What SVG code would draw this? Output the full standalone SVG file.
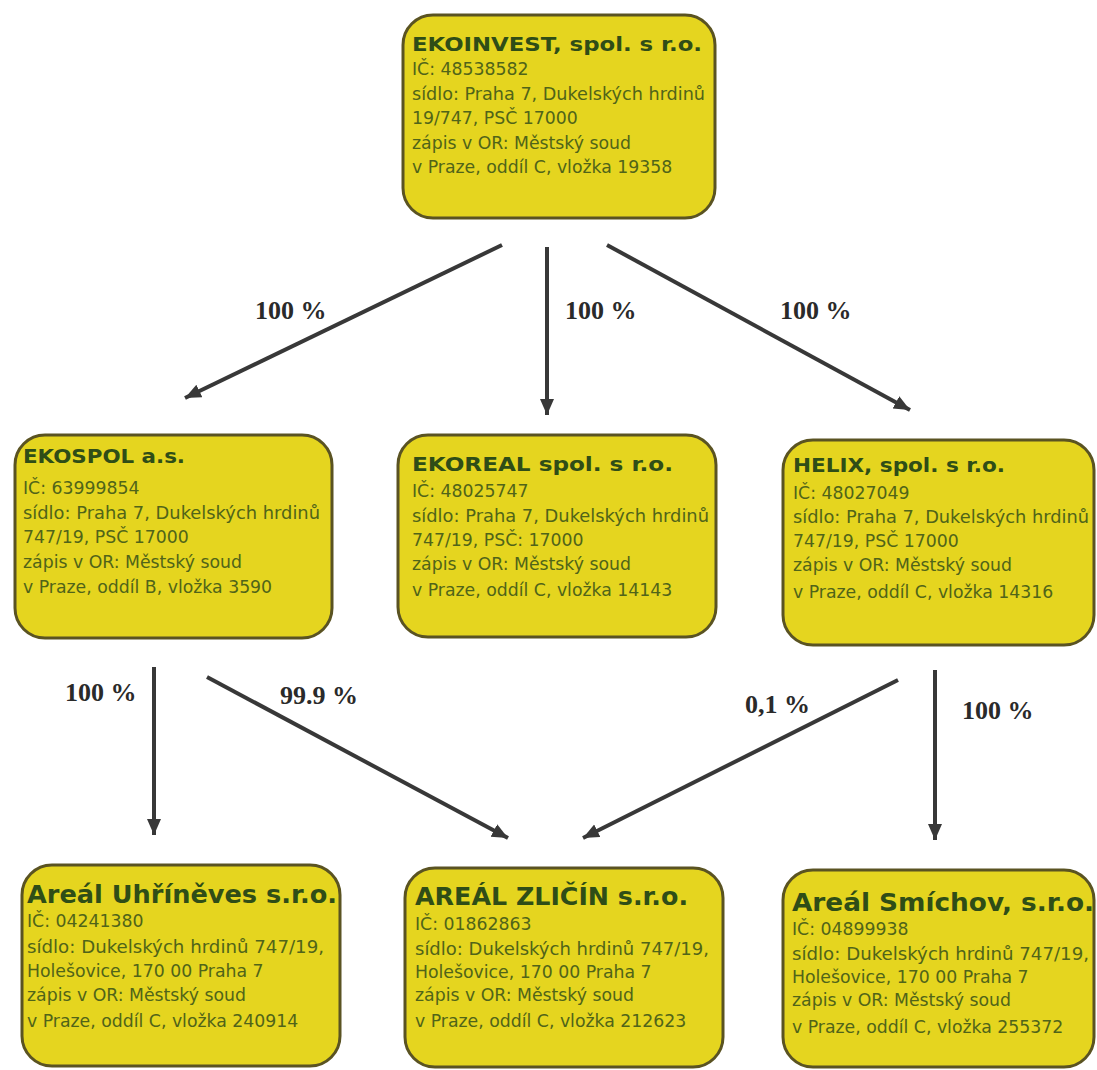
<svg xmlns="http://www.w3.org/2000/svg" width="1097" height="1070" viewBox="0 0 1097 1070">
<style>
.box{fill:#e5d51f;stroke:#5a5322;stroke-width:3}
.t{font-family:"DejaVu Sans","Liberation Sans",sans-serif;font-weight:bold;fill:#2f4d17}
.b{font-family:"DejaVu Sans","Liberation Sans",sans-serif;font-size:17.3px;fill:#506419}
.lbl{font-family:"Liberation Serif","Times New Roman",serif;font-weight:bold;font-size:26px;fill:#2a2a2a}
.edge{stroke:#383838;stroke-width:4;fill:none;marker-end:url(#ah)}
</style>
<defs>
<marker id="ah" markerUnits="userSpaceOnUse" markerWidth="18" markerHeight="16" refX="16" refY="7" orient="auto">
<path d="M0,0 L16,7 L0,14 Z" fill="#383838"/>
</marker>
</defs>
<rect width="1097" height="1070" fill="#ffffff"/>

<g id="connectors">
<line class="edge" x1="502" y1="245" x2="185" y2="398"/>
<line class="edge" x1="547" y1="247" x2="547" y2="415"/>
<line class="edge" x1="607" y1="245" x2="910" y2="410"/>
<line class="edge" x1="154" y1="667" x2="154" y2="835"/>
<line class="edge" x1="207" y1="677" x2="508" y2="838"/>
<line class="edge" x1="898" y1="680" x2="583" y2="838"/>
<line class="edge" x1="935" y1="670" x2="935" y2="840"/>
<text class="lbl" x="255" y="319">100 %</text>
<text class="lbl" x="565" y="319">100 %</text>
<text class="lbl" x="780" y="319">100 %</text>
<text class="lbl" x="65" y="701">100 %</text>
<text class="lbl" x="280" y="704">99.9 %</text>
<text class="lbl" x="745" y="713">0,1 %</text>
<text class="lbl" x="962" y="719">100 %</text>
</g>

<g id="ekoinvest">
<rect class="box" x="403" y="15" width="312" height="203" rx="30"/>
<text class="t" x="412" y="51" font-size="20" textLength="290" lengthAdjust="spacingAndGlyphs">EKOINVEST, spol. s r.o.</text>
<text class="b" x="412" y="75">IČ: 48538582</text>
<text class="b" x="412" y="99.5" textLength="293" lengthAdjust="spacingAndGlyphs">sídlo: Praha 7, Dukelských hrdinů</text>
<text class="b" x="412" y="124">19/747, PSČ 17000</text>
<text class="b" x="412" y="148.5">zápis v OR: Městský soud</text>
<text class="b" x="412" y="173">v Praze, oddíl C, vložka 19358</text>
</g>

<g id="ekospol">
<rect class="box" x="15" y="435" width="317" height="203" rx="30"/>
<text class="t" x="23" y="463" font-size="20" textLength="162" lengthAdjust="spacingAndGlyphs">EKOSPOL a.s.</text>
<text class="b" x="23" y="494">IČ: 63999854</text>
<text class="b" x="23" y="518.5" textLength="297" lengthAdjust="spacingAndGlyphs">sídlo: Praha 7, Dukelských hrdinů</text>
<text class="b" x="23" y="543">747/19, PSČ 17000</text>
<text class="b" x="23" y="567.5">zápis v OR: Městský soud</text>
<text class="b" x="23" y="593">v Praze, oddíl B, vložka 3590</text>
</g>

<g id="ekoreal">
<rect class="box" x="398" y="435" width="318" height="202" rx="30"/>
<text class="t" x="412" y="471" font-size="20" textLength="261" lengthAdjust="spacingAndGlyphs">EKOREAL spol. s r.o.</text>
<text class="b" x="412" y="497">IČ: 48025747</text>
<text class="b" x="412" y="522" textLength="297" lengthAdjust="spacingAndGlyphs">sídlo: Praha 7, Dukelských hrdinů</text>
<text class="b" x="412" y="546">747/19, PSČ: 17000</text>
<text class="b" x="412" y="570">zápis v OR: Městský soud</text>
<text class="b" x="412" y="596">v Praze, oddíl C, vložka 14143</text>
</g>

<g id="helix">
<rect class="box" x="783" y="440" width="311" height="205" rx="30"/>
<text class="t" x="793" y="472" font-size="20" textLength="212" lengthAdjust="spacingAndGlyphs">HELIX, spol. s r.o.</text>
<text class="b" x="793" y="499">IČ: 48027049</text>
<text class="b" x="793" y="523" textLength="296" lengthAdjust="spacingAndGlyphs">sídlo: Praha 7, Dukelských hrdinů</text>
<text class="b" x="793" y="547">747/19, PSČ 17000</text>
<text class="b" x="793" y="571">zápis v OR: Městský soud</text>
<text class="b" x="793" y="598">v Praze, oddíl C, vložka 14316</text>
</g>

<g id="uhrineves">
<rect class="box" x="22" y="865" width="318" height="201" rx="30"/>
<text class="t" x="27" y="903" font-size="24" textLength="310" lengthAdjust="spacingAndGlyphs">Areál Uhříněves s.r.o.</text>
<text class="b" x="27" y="927">IČ: 04241380</text>
<text class="b" x="27" y="953" textLength="297" lengthAdjust="spacingAndGlyphs">sídlo: Dukelských hrdinů 747/19,</text>
<text class="b" x="27" y="977">Holešovice, 170 00 Praha 7</text>
<text class="b" x="27" y="1001">zápis v OR: Městský soud</text>
<text class="b" x="27" y="1027">v Praze, oddíl C, vložka 240914</text>
</g>

<g id="zlicin">
<rect class="box" x="405" y="868" width="318" height="199" rx="30"/>
<text class="t" x="415" y="905" font-size="24" textLength="273" lengthAdjust="spacingAndGlyphs">AREÁL ZLIČÍN s.r.o.</text>
<text class="b" x="415" y="930">IČ: 01862863</text>
<text class="b" x="415" y="955" textLength="294" lengthAdjust="spacingAndGlyphs">sídlo: Dukelských hrdinů 747/19,</text>
<text class="b" x="415" y="978">Holešovice, 170 00 Praha 7</text>
<text class="b" x="415" y="1001">zápis v OR: Městský soud</text>
<text class="b" x="415" y="1027">v Praze, oddíl C, vložka 212623</text>
</g>

<g id="smichov">
<rect class="box" x="783" y="870" width="311" height="197" rx="30"/>
<text class="t" x="792" y="911" font-size="24" textLength="302" lengthAdjust="spacingAndGlyphs">Areál Smíchov, s.r.o.</text>
<text class="b" x="792" y="935">IČ: 04899938</text>
<text class="b" x="792" y="960" textLength="297" lengthAdjust="spacingAndGlyphs">sídlo: Dukelských hrdinů 747/19,</text>
<text class="b" x="792" y="983">Holešovice, 170 00 Praha 7</text>
<text class="b" x="792" y="1006">zápis v OR: Městský soud</text>
<text class="b" x="792" y="1033">v Praze, oddíl C, vložka 255372</text>
</g>
</svg>
